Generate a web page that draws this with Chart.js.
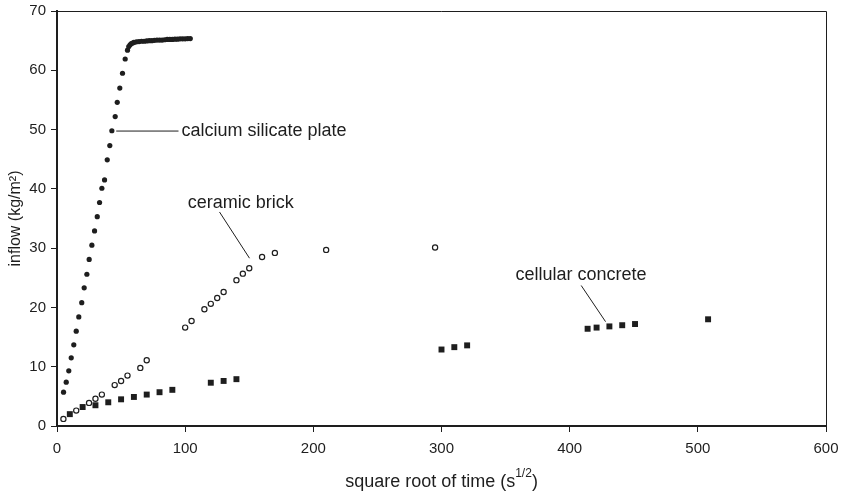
<!DOCTYPE html>
<html>
<head>
<meta charset="utf-8">
<script src="https://cdn.jsdelivr.net/npm/chart.js@4.4.1/dist/chart.umd.min.js"></script>
<style>
  html, body { margin: 0; padding: 0; background: #fff; }
  #wrap { width: 844px; height: 492px; position: relative; }
</style>
</head>
<body>
<div id="wrap"><canvas id="myChart" width="844" height="492"></canvas></div>
<script>
// calcium silicate plate (filled dots, dense plateau at the top)
const calcX = [5.1, 7.2, 9.2, 11.1, 13.1, 15.0, 17.0, 19.3, 21.2, 23.3, 25.1, 27.2, 29.3, 31.4, 33.2, 35.0, 37.1, 39.2, 41.2, 42.8, 45.4, 47.0, 49.0, 51.1, 53.2, 55.0,
  56, 57, 58, 59, 60, 62, 64, 66, 68, 70, 72, 74, 76, 78, 80, 82, 84, 86, 88, 90, 92, 94, 96, 98, 100, 102, 104];
const calcY = [5.7, 7.4, 9.3, 11.5, 13.7, 16.0, 18.4, 20.8, 23.3, 25.6, 28.1, 30.5, 32.9, 35.3, 37.7, 40.1, 41.5, 44.9, 47.3, 49.8, 52.2, 54.6, 57.0, 59.5, 61.9, 63.4,
  64.0, 64.3, 64.5, 64.6, 64.7, 64.8, 64.85, 64.9, 64.9, 64.95, 65.0, 65.0, 65.05, 65.1, 65.1, 65.1, 65.15, 65.2, 65.2, 65.2, 65.25, 65.25, 65.3, 65.3, 65.3, 65.35, 65.35];

// ceramic brick (open circles)
const brickX = [5, 15, 25, 30, 35, 45, 50, 55, 65, 70, 100, 105, 115, 120, 125, 130, 140, 145, 150, 160, 170, 210, 295];
const brickY = [1.2, 2.6, 3.9, 4.6, 5.3, 6.9, 7.6, 8.5, 9.8, 11.1, 16.6, 17.7, 19.7, 20.6, 21.6, 22.6, 24.6, 25.7, 26.6, 28.5, 29.2, 29.7, 30.1];

// cellular concrete (filled squares)
const concX = [10, 20, 30, 40, 50, 60, 70, 80, 90, 120, 130, 140, 300, 310, 320, 414, 421, 431, 441, 451, 508];
const concY = [2.0, 3.2, 3.5, 4.0, 4.5, 4.9, 5.3, 5.7, 6.1, 7.3, 7.6, 7.9, 12.9, 13.3, 13.6, 16.4, 16.6, 16.8, 17.0, 17.2, 18.0];

const xTicks = [0, 100, 200, 300, 400, 500, 600];
const yTicks = [0, 10, 20, 30, 40, 50, 60, 70];

// label text, anchor of text (data), leader line from -> to (data)
const labels = [
  {text: 'calcium silicate plate', x: 97.1, y: 49.75, line: [46.2, 49.75, 94.8, 49.75]},
  {text: 'ceramic brick', x: 102, y: 37.6, line: [126.8, 36.1, 150.2, 28.3]},
  {text: 'cellular concrete', x: 357.7, y: 25.5, line: [409.0, 23.7, 428.0, 17.6]}
];

const ink = '#1e1e1e';
const fontFam = '"Liberation Sans", Arial, sans-serif';

function pts(xs, ys) {
  return xs.map((x, i) => ({x: x, y: ys[i]}));
}

const annotate = {
  id: 'annotate',
  afterDraw(chart) {
    const ctx = chart.ctx;
    const xs = chart.scales.x, ys = chart.scales.y;
    const a = chart.chartArea;
    ctx.save();
    // frame top + right
    ctx.strokeStyle = ink;
    ctx.lineWidth = 1;
    ctx.beginPath();
    ctx.moveTo(a.left, a.top + 0.5);
    ctx.lineTo(a.right + 0.5, a.top + 0.5);
    ctx.lineTo(a.right + 0.5, a.bottom);
    ctx.stroke();

    ctx.fillStyle = ink;
    ctx.font = '18px ' + fontFam;
    ctx.textBaseline = 'middle';
    labels.forEach(l => {
      ctx.beginPath();
      ctx.moveTo(xs.getPixelForValue(l.line[0]), ys.getPixelForValue(l.line[1]));
      ctx.lineTo(xs.getPixelForValue(l.line[2]), ys.getPixelForValue(l.line[3]));
      ctx.stroke();
      ctx.fillText(l.text, xs.getPixelForValue(l.x), ys.getPixelForValue(l.y));
    });

    // x axis title with superscript
    const main = 'square root of time (s';
    const sup = '1/2';
    const close = ')';
    ctx.font = '18px ' + fontFam;
    const w1 = ctx.measureText(main).width;
    const w3 = ctx.measureText(close).width;
    ctx.font = '12px ' + fontFam;
    const w2 = ctx.measureText(sup).width;
    let x0 = (a.left + a.right) / 2 - (w1 + w2 + w3) / 2;
    const yb = 482;
    ctx.textAlign = 'left';
    ctx.font = '18px ' + fontFam;
    ctx.fillText(main, x0, yb);
    ctx.font = '12px ' + fontFam;
    ctx.fillText(sup, x0 + w1, yb - 8);
    ctx.font = '18px ' + fontFam;
    ctx.fillText(close, x0 + w1 + w2, yb);
    ctx.restore();
  }
};

const ctx = document.getElementById('myChart').getContext('2d');
new Chart(ctx, {
  type: 'scatter',
  data: {
    datasets: [
      {
        label: 'calcium silicate plate',
        data: pts(calcX, calcY),
        pointStyle: 'circle',
        pointRadius: 2.6,
        pointBackgroundColor: ink,
        pointBorderColor: ink,
        pointBorderWidth: 0
      },
      {
        label: 'ceramic brick',
        data: pts(brickX, brickY),
        pointStyle: 'circle',
        pointRadius: 2.6,
        pointBackgroundColor: '#fff',
        pointBorderColor: ink,
        pointBorderWidth: 1.2
      },
      {
        label: 'cellular concrete',
        data: pts(concX, concY),
        pointStyle: 'rect',
        pointRadius: 4.2,
        pointBackgroundColor: ink,
        pointBorderColor: ink,
        pointBorderWidth: 0
      }
    ]
  },
  options: {
    responsive: false,
    animation: false,
    layout: {padding: {left: 0, right: 18, top: 11, bottom: 0}},
    plugins: {legend: {display: false}, tooltip: {enabled: false}},
    scales: {
      x: {
        type: 'linear',
        min: 0,
        max: 600,
        afterBuildTicks: s => { s.ticks = xTicks.map(v => ({value: v})); },
        afterFit: s => { s.height = 66; s.paddingLeft = 0; s.paddingRight = 0; },
        grid: {drawOnChartArea: false, drawTicks: true, tickLength: 6, color: ink, lineWidth: 1},
        border: {color: ink, width: 2},
        ticks: {color: ink, font: {size: 15, family: fontFam}, padding: 8, maxRotation: 0}
      },
      y: {
        type: 'linear',
        min: 0,
        max: 70,
        afterBuildTicks: s => { s.ticks = yTicks.map(v => ({value: v})); },
        afterFit: s => { s.width = 57; s.paddingTop = 0; s.paddingBottom = 0; },
        grid: {drawOnChartArea: false, drawTicks: true, tickLength: 6, color: ink, lineWidth: 1},
        border: {color: ink, width: 2},
        ticks: {color: ink, font: {size: 15, family: fontFam}, padding: 5},
        title: {display: true, text: 'inflow (kg/m²)', color: ink, font: {size: 16, family: fontFam}, padding: {top: 6, bottom: 0}}
      }
    }
  },
  plugins: [annotate]
});
</script>
</body>
</html>
